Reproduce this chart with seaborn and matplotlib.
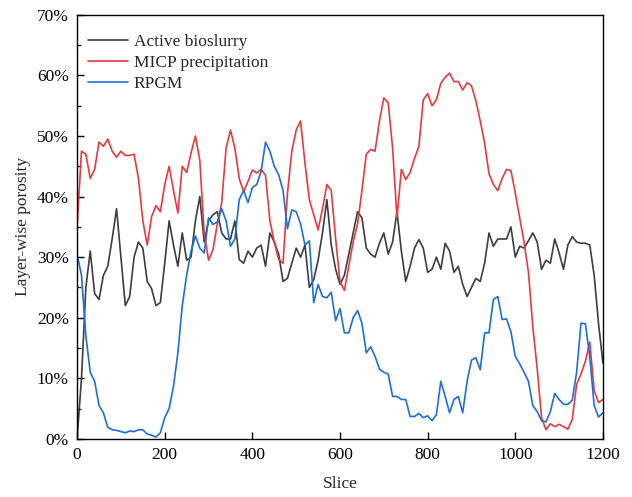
import numpy as np
import pandas as pd
import matplotlib
matplotlib.use("Agg")
import matplotlib.pyplot as plt
import seaborn as sns
from matplotlib.ticker import PercentFormatter, MultipleLocator

# slice positions (every 10 slices)
slices = list(range(0, 1201, 10))

# porosity values in percent
active_bioslurry = [
    0, 10, 25, 31, 24, 23, 27, 28.5, 33, 38,
    30, 22, 23.5, 30, 32.5, 31.5, 26, 24.8, 22, 22.5,
    29, 36, 32, 28.5, 34, 29.5, 30, 36, 40, 32.5,
    36, 37, 37.5, 34, 33, 33, 36, 29.6, 29, 31,
    30, 31.5, 32, 28.5, 34, 32.5, 30.5, 26, 26.5, 29,
    31.5, 30, 32, 25, 26.3, 29.5, 34, 39.5, 32, 28,
    25.5, 27, 30.5, 34, 37.5, 36.5, 31.5, 30.5, 30, 32.3,
    34, 30.5, 32.5, 37.5, 31, 26, 28.5, 31.5, 32.9, 31.5,
    27.5, 28, 30, 28, 32.3, 31, 27.5, 28.5, 25.5, 23.5,
    25, 26.5, 26, 29, 34, 31.8, 33, 33, 33, 35,
    30, 31.8, 31.5, 32.7, 34, 32.5, 28, 29.5, 29, 33,
    30.7, 28, 32, 33.4, 32.5, 32.3, 32.3, 32, 27, 19,
    12.5,
]
micp_precipitation = [
    35, 47.5, 47, 43, 44.5, 49, 48.3, 49.5, 47.5, 46.5,
    47.5, 46.8, 46.8, 47, 43, 36, 32, 36.7, 38.5, 37.5,
    42, 45, 41, 37.3, 45, 44, 47.2, 50, 46, 34,
    29.5, 31.2, 35.5, 39, 48, 51, 48, 43, 40.8, 42.5,
    44.4, 43.9, 44.5, 43.5, 36, 32.5, 29.6, 29, 40.5, 47.5,
    51, 52.5, 45.5, 39.5, 37, 34.5, 38, 42, 41, 33,
    26, 24.5, 28.5, 32.5, 35.5, 41, 47, 47.8, 47.5, 52.5,
    56.3, 55.5, 48, 36.5, 44.5, 42.8, 44, 46.3, 48.3, 56,
    57, 55, 56, 58.7, 59.7, 60.4, 59, 59, 57.6, 58.8,
    58.3, 55.8, 52.5, 48.8, 43.8, 42, 41, 43, 44.5, 44.3,
    40.6, 36.5, 32.5, 27.5, 18.5, 11.6, 3.5, 1.5, 2.5, 2,
    2.4, 2, 1.6, 3.2, 9, 10.7, 12.8, 16, 8, 6,
    6.5,
]
rpgm = [
    30.5, 27, 17, 11, 9.5, 5.5, 4.3, 1.9, 1.5, 1.4,
    1.2, 1, 1.3, 1.2, 1.5, 1.5, 0.8, 0.6, 0.3, 1,
    3.5, 5, 8.7, 14.2, 22, 27, 31, 33.5, 31.5, 30.7,
    36.5, 35.4, 35.8, 38, 36, 31.8, 33, 39.5, 41, 39,
    41.5, 42, 44.2, 49, 47.5, 45, 43.6, 41, 34.7, 37.8,
    37.5, 35.5, 32, 32.7, 22.5, 25.5, 23.5, 23.3, 24.2, 19.5,
    21.5, 17.5, 17.5, 20, 21.2, 19.1, 14.2, 15.2, 13.6, 11.5,
    11, 10.7, 7, 7, 6.5, 6.5, 3.7, 3.7, 4.2, 3.5,
    3.8, 3, 4, 9.5, 7, 4.3, 6.5, 7, 4.3, 9.5,
    13, 13.4, 11.4, 17.5, 17.5, 23, 23.5, 19.7, 19.8, 17.7,
    13.6, 12.4, 11, 9.5, 5.5, 4.5, 3, 2.8, 4.5, 7.5,
    6.5, 5.7, 5.7, 6.4, 11, 19.1, 19, 13.5, 5.5, 3.6,
    4.3,
]

series_names = ["Active bioslurry", "MICP precipitation", "RPGM"]
colors = ["#3d3d3d", "#e8393e", "#1c6edb"]

df = pd.DataFrame({
    "Slice": slices,
    series_names[0]: active_bioslurry,
    series_names[1]: micp_precipitation,
    series_names[2]: rpgm,
})
long_df = df.melt(id_vars="Slice", var_name="series", value_name="porosity")

sns.set_theme(style="ticks")
plt.rcParams["font.family"] = ["Liberation Serif", "DejaVu Serif"]

fig = plt.figure(figsize=(6.32, 4.97), dpi=100)
ax = fig.add_axes([0.122, 0.117, 0.832, 0.853])

sns.lineplot(data=long_df, x="Slice", y="porosity", hue="series",
             palette=colors, hue_order=series_names, linewidth=1.2, ax=ax)

ax.set_xlim(0, 1200)
ax.set_ylim(0, 70)
ax.xaxis.set_major_locator(MultipleLocator(200))
ax.yaxis.set_major_locator(MultipleLocator(10))
ax.yaxis.set_minor_locator(MultipleLocator(5))
ax.yaxis.set_major_formatter(PercentFormatter(100, decimals=0))
ax.tick_params(axis="both", which="major", direction="in", length=5, width=1,
               labelsize=12.5, colors="black", pad=6)
ax.tick_params(axis="y", which="minor", direction="in", length=3, width=1)
for sp in ax.spines.values():
    sp.set_visible(True)
    sp.set_linewidth(1)
    sp.set_color("black")

ax.set_xlabel("Slice", fontsize=12.5, labelpad=9)
ax.set_ylabel("Layer-wise porosity", fontsize=12.5, labelpad=4)

ax.legend(loc="upper left", bbox_to_anchor=(0.0, 0.98), frameon=False,
          fontsize=12.5, handlelength=2.35, handletextpad=0.3,
          labelspacing=0.28, borderaxespad=0.2, borderpad=0.4)

fig.savefig("out.png", dpi=100)
